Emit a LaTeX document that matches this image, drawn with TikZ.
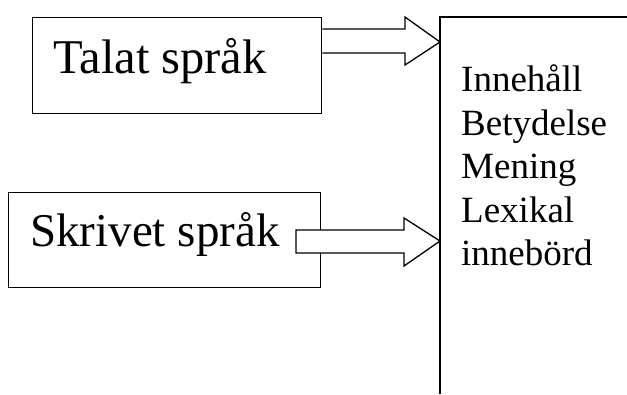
\documentclass[tikz,border=0pt]{standalone}
\usepackage{fontspec}
\setmainfont{Liberation Serif}
\begin{document}
\begin{tikzpicture}[x=1pt,y=-1pt,
  boxline/.style={draw=black,line width=1.3pt},
  bigtext/.style={anchor=base west,inner sep=0pt,font=\fontsize{47}{47}\selectfont},
  listtext/.style={anchor=base west,inner sep=0pt,font=\fontsize{37}{43.5}\selectfont},
  fatarrow/.style={draw=black,fill=white,line width=1.3pt,line join=miter}]
\useasboundingbox (0,0) rectangle (627,394);
% boxes
\node[boxline,rectangle,minimum width=289pt,minimum height=96pt,inner sep=0pt,anchor=north west] (talatbox) at (32,17) {};
\node[boxline,rectangle,minimum width=312pt,minimum height=95pt,inner sep=0pt,anchor=north west] (skrivbox) at (8,192) {};
\node[bigtext,font=\fontsize{48.5}{48.5}\selectfont] (talat) at (53,73) {Talat språk};
\node[bigtext] (skriv) at (30,246) {Skrivet språk};
% big right box (open at right and bottom)
\coordinate (bigtl) at (440,17);
\coordinate (bigbl) at (440,394);
\coordinate (bigtr) at (627,17);
\draw[line width=1.3pt] (bigbl) -- (bigtl) -- (bigtr);
\node[listtext] (l1) at (461,91.5) {Innehåll};
\node[listtext] (l2) at (461,135) {Betydelse};
\node[listtext] (l3) at (461,178.5) {Mening};
\node[listtext] (l4) at (461,222) {Lexikal};
\node[listtext] (l5) at (461,265.5) {innebörd};
% arrows
\draw[fatarrow] (talatbox.north east |- 0,29) -- (405,29) -- (405,17) -- (bigtl |- 0,42) -- (405,65) -- (405,53) -- (talatbox.north east |- 0,53);
\draw[fatarrow] (296,230) -- (404,230) -- (404,218) -- (bigtl |- 0,241) -- (404,266) -- (404,253) -- (296,253) -- cycle;
\end{tikzpicture}
\end{document}
